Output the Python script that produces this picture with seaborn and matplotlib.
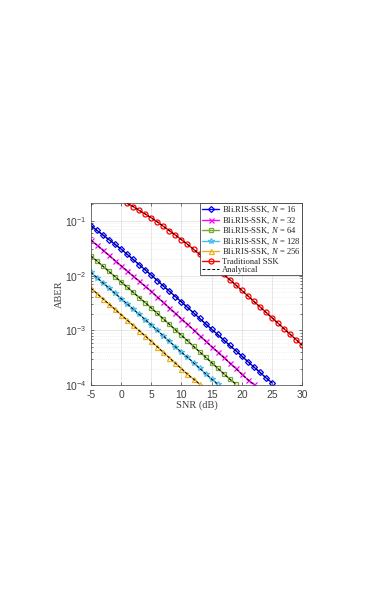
import matplotlib
matplotlib.use('Agg')
import matplotlib.pyplot as plt
import seaborn as sns
from matplotlib.ticker import LogLocator, NullFormatter

# SNR grids (dB)
snr_16 = list(range(-5, 26))
snr_32 = list(range(-5, 23))
snr_64 = list(range(-5, 20))
snr_128 = list(range(-5, 17))
snr_256 = list(range(-5, 14))
snr_ssk = list(range(1, 31))

# ABER values
aber_16 = [0.0813, 0.0668, 0.0550, 0.0452, 0.0372, 0.0305, 0.0245, 0.0197, 0.0158, 0.0127,
           0.0102, 8.13e-3, 6.46e-3, 5.19e-3, 4.12e-3, 3.31e-3, 2.63e-3, 2.09e-3, 1.66e-3,
           1.32e-3, 1.05e-3, 8.41e-4, 6.68e-4, 5.31e-4, 4.27e-4, 3.39e-4, 2.69e-4, 2.14e-4,
           1.72e-4, 1.36e-4, 1.10e-4]
aber_32 = [0.0447, 0.0360, 0.0290, 0.0233, 0.0188, 0.0151, 0.0122, 9.82e-3, 7.91e-3, 6.37e-3,
           5.13e-3, 4.07e-3, 3.24e-3, 2.57e-3, 2.04e-3, 1.62e-3, 1.29e-3, 1.02e-3, 8.04e-4,
           6.38e-4, 5.07e-4, 4.03e-4, 3.20e-4, 2.54e-4, 2.02e-4, 1.58e-4, 1.26e-4, 1.03e-4]
aber_64 = [0.0229, 0.0184, 0.0148, 0.0119, 9.55e-3, 7.67e-3, 6.17e-3, 4.95e-3, 3.98e-3, 3.20e-3,
           2.57e-3, 2.04e-3, 1.62e-3, 1.29e-3, 1.02e-3, 8.13e-4, 6.46e-4, 5.13e-4, 4.07e-4,
           3.24e-4, 2.57e-4, 2.04e-4, 1.62e-4, 1.29e-4, 1.05e-4]
aber_128 = [0.0115, 9.20e-3, 7.38e-3, 5.92e-3, 4.74e-3, 3.80e-3, 3.05e-3, 2.44e-3, 1.96e-3,
            1.57e-3, 1.26e-3, 1.00e-3, 7.94e-4, 6.31e-4, 5.01e-4, 3.98e-4, 3.24e-4, 2.57e-4,
            2.04e-4, 1.62e-4, 1.29e-4, 1.05e-4]
aber_256 = [5.89e-3, 4.71e-3, 3.77e-3, 3.01e-3, 2.41e-3, 1.93e-3, 1.54e-3, 1.23e-3, 9.86e-4,
            7.89e-4, 6.31e-4, 5.01e-4, 3.98e-4, 3.16e-4, 2.51e-4, 2.00e-4, 1.58e-4, 1.29e-4,
            1.05e-4]
aber_ssk = [0.209, 0.182, 0.155, 0.133, 0.1135, 0.0955, 0.0794, 0.0661, 0.0550, 0.0452,
            0.0372, 0.0302, 0.0245, 0.0200, 0.0162, 0.0130, 0.0105, 8.41e-3, 6.76e-3, 5.37e-3,
            4.27e-3, 3.39e-3, 2.69e-3, 2.14e-3, 1.70e-3, 1.35e-3, 1.07e-3, 8.51e-4, 6.76e-4,
            5.37e-4]

labels = ['Bli.RIS-SSK, $N$ = 16', 'Bli.RIS-SSK, $N$ = 32', 'Bli.RIS-SSK, $N$ = 64',
          'Bli.RIS-SSK, $N$ = 128', 'Bli.RIS-SSK, $N$ = 256', 'Traditional SSK']
xticks = [-5, 0, 5, 10, 15, 20, 25, 30]
yticks = [1e-4, 1e-3, 1e-2, 1e-1]
ytick_labels = [r'$\mathsf{10^{-4}}$', r'$\mathsf{10^{-3}}$', r'$\mathsf{10^{-2}}$', r'$\mathsf{10^{-1}}$']

sns.set_style('ticks')
plt.rcParams['mathtext.fontset'] = 'custom'
plt.rcParams['mathtext.rm'] = 'Liberation Serif'
plt.rcParams['mathtext.it'] = 'Liberation Serif:italic'
plt.rcParams['mathtext.sf'] = 'Liberation Sans'
plt.rcParams['font.family'] = ['Liberation Serif', 'DejaVu Serif']

fig = plt.figure(figsize=(3.82, 5.99), dpi=100)
ax = fig.add_axes([0.238, 0.357, 0.553, 0.304])

series = [
    (snr_16, aber_16, '#0000FF', 'D', 3.0),
    (snr_32, aber_32, '#FF00FF', 'x', 3.6),
    (snr_64, aber_64, '#77AC30', 's', 3.2),
    (snr_128, aber_128, '#4DBEEE', '*', 4.4),
    (snr_256, aber_256, '#EDB120', '^', 3.6),
    (snr_ssk, aber_ssk, '#FF0000', 'o', 3.6),
]

handles = []
for (x, y, c, m, ms), lab in zip(series, labels):
    sns.lineplot(x=x, y=y, ax=ax, color=c, marker=m, markersize=ms, markerfacecolor='none',
                 markeredgecolor=c, markeredgewidth=0.9, linewidth=1.0, label=lab, legend=False)
    handles.append(ax.lines[-1])

for i, (x, y, c, m, ms) in enumerate(series):
    sns.lineplot(x=x, y=y, ax=ax, color='black', linestyle=(0, (3, 2)), linewidth=0.7,
                 label='Analytical' if i == 0 else None, legend=False)
    if i == 0:
        handles.append(ax.lines[-1])

ax.set_yscale('log')
ax.set_xlim(-5, 30)
ax.set_ylim(1e-4, 0.211)
ax.set_xticks(xticks)
ax.set_xticklabels([str(t) for t in xticks], family='Liberation Sans', fontsize=7.5, color='#404040')
ax.set_yticks(yticks)
ax.set_yticklabels(ytick_labels, fontsize=7.5, color='#404040')
ax.yaxis.set_minor_locator(LogLocator(base=10, subs=range(2, 10), numticks=20))
ax.yaxis.set_minor_formatter(NullFormatter())
ax.tick_params(which='both', direction='in', top=True, right=True, colors='#404040',
               length=2.5, width=0.5)
ax.tick_params(which='minor', length=1.5)
ax.tick_params(axis='x', pad=3.5)
ax.tick_params(axis='y', pad=3)
ax.grid(True, which='major', color='#262626', alpha=0.15, linewidth=0.5)
ax.grid(True, which='minor', axis='y', color='#262626', alpha=0.12, linewidth=0.5, linestyle=':')
for s in ax.spines.values():
    s.set_linewidth(0.5)
    s.set_color('#404040')

ax.set_xlabel('SNR (dB)', fontsize=7.5, color='#404040', labelpad=0.5)
ax.set_ylabel('ABER', fontsize=7.5, color='#404040', labelpad=1)

leg = ax.legend(handles=handles, labels=labels + ['Analytical'], loc='upper right',
                fontsize=6.2, borderaxespad=0, frameon=True, fancybox=False, edgecolor='#262626',
                framealpha=1, handlelength=2.0, handletextpad=0.3, borderpad=0.2,
                labelspacing=0.02)
leg.get_frame().set_linewidth(0.5)

fig.savefig('out.png', dpi=100)
